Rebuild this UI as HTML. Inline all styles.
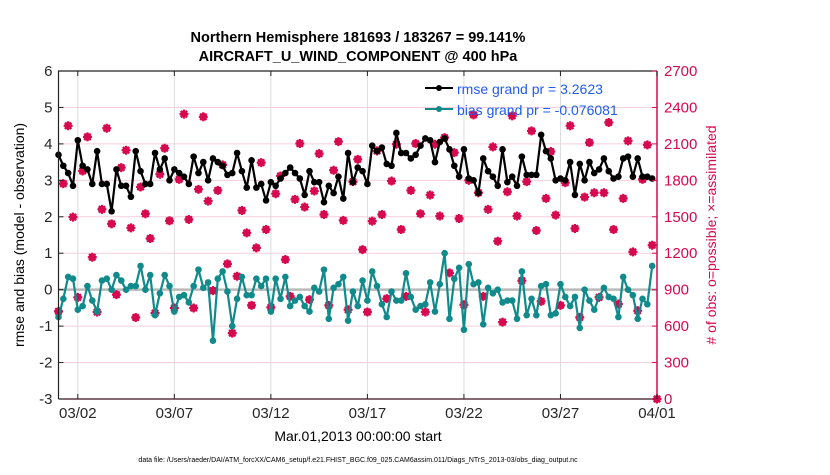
<!DOCTYPE html>
<html><head><meta charset="utf-8"><style>
body{margin:0;background:#fff;}
svg text{font-family:"Liberation Sans",sans-serif;}
</style></head><body>
<svg id="chart" width="830" height="470" viewBox="0 0 830 470" xmlns="http://www.w3.org/2000/svg">
<text x="358" y="42" text-anchor="middle" font-size="14.5" font-weight="bold">Northern Hemisphere 181693 / 183267 = 99.141%</text>
<text x="358" y="61" text-anchor="middle" font-size="14.5" font-weight="bold">AIRCRAFT_U_WIND_COMPONENT @ 400 hPa</text>
<g id="grid"></g><g id="marks"></g><g id="axes"></g>
<text transform="translate(24,235) rotate(-90)" text-anchor="middle" font-size="14">rmse and bias (model - observation)</text>
<text transform="translate(716,235) rotate(-90)" text-anchor="middle" font-size="14" fill="#d6094f"># of obs: o=possible; ×=assimilated</text>
<text x="358" y="441" text-anchor="middle" font-size="14">Mar.01,2013 00:00:00 start</text>
<text x="358" y="462" text-anchor="middle" font-size="7">data file: /Users/raeder/DAI/ATM_forcXX/CAM6_setup/f.e21.FHIST_BGC.f09_025.CAM6assim.011/Diags_NTrS_2013-03/obs_diag_output.nc</text>
<g>
<line x1="425" y1="88" x2="453" y2="88" stroke="#000" stroke-width="2"/><circle cx="439" cy="88" r="3" fill="#000"/>
<text x="457" y="94" font-size="14" fill="#1f5cf2">rmse grand pr = 3.2623</text>
<line x1="425" y1="109" x2="453" y2="109" stroke="#108a8a" stroke-width="2"/><circle cx="439" cy="109" r="3" fill="#108a8a"/>
<text x="457" y="115" font-size="14" fill="#1f5cf2">bias grand pr = -0.076081</text>
</g>
</svg>
<script>
const rmseVals=[3.7,3.4,3.2,2.85,4.1,3.4,3.3,2.9,3.8,2.9,2.9,2.15,3.3,2.85,2.85,2.55,3.8,3.25,2.9,2.9,3.75,3.3,3.6,3.0,3.3,3.2,3.1,2.9,3.65,3.2,3.5,3.0,
3.6,3.5,3.4,3.15,3.2,3.75,3.25,2.8,3.55,2.8,2.9,2.45,2.95,2.85,3.05,3.2,3.35,3.2,3.05,2.6,3.25,2.95,2.95,2.4,2.85,2.65,3.1,2.5,3.75,2.95,
3.35,3.25,2.9,3.95,3.8,3.9,3.45,3.4,4.3,3.75,3.75,3.6,3.7,3.95,4.15,4.1,3.5,4.05,4.15,3.85,3.4,3.1,3.85,3.05,3.0,2.65,3.6,3.25,3.1,2.85,3.85,2.95,
3.1,2.85,3.65,3.15,3.15,3.15,4.25,3.8,3.6,3.0,3.05,3.0,3.5,2.6,3.45,3.0,3.5,3.2,3.3,3.6,3.25,3.05,3.1,3.6,3.65,3.1,3.6,3.1,3.1,3.05];
const biasVals=[-0.75,-0.25,0.35,0.3,-0.55,-0.45,0.1,-0.3,-0.6,0.25,0.3,0,0.4,0.25,0,0.1,0.1,0.65,0,0.4,-0.7,-0.1,0.4,0.1,-0.6,-0.2,-0.15,-0.35,0.1,0.55,0.05,0.2,
-1.4,0.3,0.5,-0.05,-1.0,-0.25,0.35,-0.15,-0.15,0.3,0.1,0.3,-0.6,0.3,-0.25,0.35,-0.45,-0.3,-0.2,-0.45,-0.6,0.05,-0.05,0.55,-0.8,0.05,0.15,0.35,-0.85,-0.05,
-0.45,0.25,-0.3,0.5,0.1,-0.4,-0.75,-0.05,-0.3,-0.3,0.45,-0.2,-0.55,-0.45,-0.4,0.2,-0.6,0.15,1.0,-0.8,0.3,0.6,-1.1,0.7,0.15,0.2,-0.95,0.05,-0.1,0,-0.35,-0.3,
-0.3,-0.8,0.5,-0.7,-0.25,-0.7,0.1,0.15,-0.7,-0.65,0.15,-0.2,-0.45,-0.2,-1.05,0,-0.3,-0.55,-0.2,0.05,-0.2,-0.25,-0.75,0.35,0,-0.15,-0.8,-0.25,-0.4,0.65];
const obsAssimilated=[721,1773,2249,1497,837,1877,2158,1167,716,1561,2229,1442,859,1905,2048,1409,671,1745,1525,1321,707,1850,2064,1467,749,1808,2345,1478,749,1726,2323,1629,
892,1717,1927,1112,542,1010,1552,1368,771,1244,1946,1395,754,1690,1836,1148,845,1643,2103,1580,818,1712,2020,1519,771,1883,2119,1470,735,1789,
1973,1230,716,1464,2042,1519,826,1794,2097,1395,845,1717,2103,1525,716,1679,2097,1506,2152,1038,2028,1486,776,1800,2339,1698,845,1561,2075,1299,633,1706,
2331,1506,974,1789,2207,1387,804,1651,2037,1514,771,1781,2249,1404,672,1662,2111,1698,837,1698,2276,1395,782,1651,2125,1211,727,1808,2092,1266,0];
const leftTicks=[-3,-2,-1,0,1,2,3,4,5,6];
const rightTicks=[0,300,600,900,1200,1500,1800,2100,2400,2700];
const dateTicks=[1,6,11,16,21,26,31];
const dateLabels=["03/02","03/07","03/12","03/17","03/22","03/27","04/01"];
const stepDays=0.25;
const X0=58.5,X1=657,Y0=399,Y1=71;
const xs=t=>X0+(t/31)*(X1-X0);
const yL=v=>Y0-(v+3)/9*(Y0-Y1);
const yR=v=>Y0-v/2700*(Y0-Y1);
const NS="http://www.w3.org/2000/svg";
function mk(tag,attrs,parent){const e=document.createElementNS(NS,tag);for(const k in attrs)e.setAttribute(k,attrs[k]);parent.appendChild(e);return e;}
const grid=document.getElementById('grid'),marks=document.getElementById('marks'),axes=document.getElementById('axes');
const PINK="#d6094f",TEAL="#108a8a";
mk('rect',{x:X0,y:Y1,width:X1-X0,height:Y0-Y1,fill:'#fff'},grid);
leftTicks.forEach(v=>{if(v===-3||v===6||v===0)return;const l=mk('line',{x1:X0,x2:X1,y1:yL(v),y2:yL(v),stroke:'#f6cfdc','stroke-width':1},grid);

});
dateTicks.forEach(d=>{const l=mk('line',{x1:xs(d),x2:xs(d),y1:Y1,y2:Y0,stroke:'#dcdcdc','stroke-width':1},grid);

});
const zl=mk('line',{x1:X0,x2:X1,y1:yL(0),y2:yL(0),stroke:'#b9b9b9','stroke-width':2.5},grid);


// obs markers
obsAssimilated.forEach((v,i)=>{const cx=xs(i*stepDays),cy=yR(v);
const g=mk('g',{},marks);


mk('circle',{cx:cx,cy:cy,r:3,fill:'none',stroke:PINK,'stroke-width':1.5},g);
mk('path',{d:`M${cx-4.5},${cy}H${cx+4.5}M${cx},${cy-4.5}V${cy+4.5}M${cx-3.2},${cy-3.2}L${cx+3.2},${cy+3.2}M${cx-3.2},${cy+3.2}L${cx+3.2},${cy-3.2}`,stroke:PINK,'stroke-width':2.2},g);});
function series(vals,col,name){const d=vals.map((v,i)=>(i?'L':'M')+xs(i*stepDays).toFixed(1)+','+yL(v).toFixed(1)).join('');
const p=mk('path',{d:d,fill:'none',stroke:col,'stroke-width':2.2,'stroke-linejoin':'round'},marks);


vals.forEach((v,i)=>{const c=mk('circle',{cx:xs(i*stepDays),cy:yL(v),r:3.3,fill:col},marks);

});}
series(rmseVals,'#000','rmse');
series(biasVals,TEAL,'bias');
// axes
mk('path',{d:`M${X0},${Y0}V${Y1}H${X1}`,fill:'none',stroke:'#222','stroke-width':1.2},axes);
mk('line',{x1:X0,x2:X1,y1:Y0,y2:Y0,stroke:'#3a1020','stroke-width':1.2},axes);
mk('line',{x1:X1,x2:X1,y1:Y1,y2:Y0,stroke:PINK,'stroke-width':1.5},axes);
leftTicks.forEach(v=>{mk('line',{x1:X0,x2:X0+5,y1:yL(v),y2:yL(v),stroke:'#222'},axes);
const t=mk('text',{x:X0-6,y:yL(v)+5,'text-anchor':'end','font-size':15,fill:'#262626'},axes);t.textContent=v;

});
rightTicks.forEach(v=>{mk('line',{x1:X1-5,x2:X1,y1:yR(v),y2:yR(v),stroke:PINK},axes);
const t=mk('text',{x:X1+7,y:yR(v)+5,'font-size':15,fill:PINK},axes);t.textContent=v;

});
dateTicks.forEach((d,i)=>{mk('line',{x1:xs(d),x2:xs(d),y1:Y0,y2:Y0-5,stroke:'#222'},axes);mk('line',{x1:xs(d),x2:xs(d),y1:Y1,y2:Y1+5,stroke:'#222'},axes);
const t=mk('text',{x:xs(d),y:Y0+19,'text-anchor':'middle','font-size':15,fill:'#262626'},axes);t.textContent=dateLabels[i];

});
</script>
</body></html>
